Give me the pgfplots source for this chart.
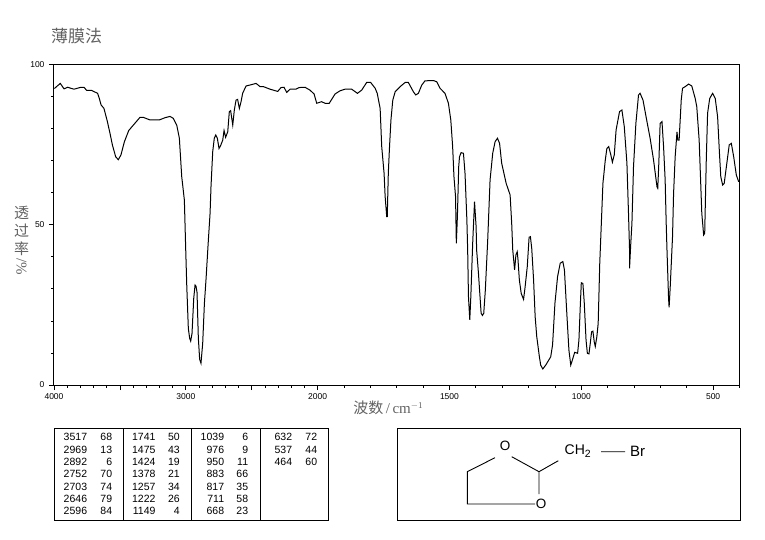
\documentclass[border=0pt]{standalone}
\usepackage{fontspec}
\setmainfont{Liberation Sans}
\newfontfamily\cjk{Noto Sans CJK SC}
\newfontfamily\serifcm{Liberation Serif}
\usepackage{pgfplots}
\pgfplotsset{compat=1.18}
\usepackage{pgfplotstable}

\definecolor{greytext}{gray}{0.38}

% spectrum: wavenumber (cm-1), transmittance (%)
\pgfplotstableread{
wn T
3997 92.5
3975 93.3
3952 94.1
3924 92.4
3896 92.9
3874 92.6
3848 92.3
3795 92.9
3772 92.9
3752 91.9
3714 91.9
3669 91.0
3656 89.4
3643 87.4
3621 86.3
3595 82.2
3575 78.5
3557 74.9
3532 71.2
3512 70.3
3492 71.8
3466 75.9
3433 79.4
3398 81.1
3348 83.5
3322 83.5
3272 82.7
3201 82.7
3158 83.4
3120 83.8
3095 83.2
3069 81.1
3049 77.0
3031 65.0
3011 57.7
3001 42.6
2993 31.2
2981 17.7
2971 14.6
2963 13.7
2953 16.1
2940 27.0
2930 31.2
2923 30.9
2915 28.9
2905 14.6
2895 8.0
2885 6.8
2872 13.0
2859 25.5
2847 32.8
2829 45.2
2816 53.6
2809 61.9
2796 72.8
2784 77.0
2773 78.0
2761 77.0
2748 73.8
2736 74.7
2720 76.4
2710 79.4
2698 77.3
2682 79.0
2670 85.3
2660 85.6
2644 81.1
2632 85.8
2619 88.9
2607 89.1
2594 86.3
2581 88.4
2569 91.0
2543 93.3
2513 93.6
2467 94.1
2437 93.1
2412 93.1
2361 92.3
2303 91.6
2278 92.8
2255 92.9
2235 91.3
2209 92.3
2164 92.3
2141 92.8
2096 92.9
2058 92.0
2027 90.8
2007 87.9
1985 88.4
1972 87.9
1956 87.9
1934 90.8
1915 91.8
1896 92.3
1871 92.3
1849 91.0
1833 92.0
1814 94.4
1799 94.4
1782 92.6
1774 91.0
1763 86.3
1757 74.4
1748 66.0
1744 58.8
1738 52.5
1736 52.5
1732 66.0
1728 73.3
1722 82.7
1715 88.9
1706 91.5
1687 93.1
1668 94.4
1656 94.4
1637 91.5
1628 90.5
1618 91.0
1605 93.6
1593 94.9
1561 95.0
1548 94.6
1536 92.6
1517 91.0
1504 87.9
1495 82.7
1488 74.4
1483 65.0
1477 58.8
1474 44.2
1470 52.5
1465 68.1
1462 71.2
1456 72.5
1447 72.3
1441 66.0
1434 51.5
1431 42.1
1428 27.6
1423 20.3
1419 27.6
1412 44.2
1405 57.2
1399 49.4
1397 42.1
1390 34.8
1380 22.4
1375 21.7
1370 22.4
1364 29.6
1355 45.2
1346 64.0
1336 72.3
1327 75.9
1318 77.0
1310 75.4
1302 69.2
1285 62.9
1270 59.3
1264 50.4
1260 42.1
1257 39.5
1253 35.9
1248 40.6
1243 41.6
1240 39.0
1235 32.8
1228 28.6
1219 26.7
1213 30.7
1205 36.9
1198 46.1
1193 46.3
1188 42.6
1181 32.8
1175 21.3
1169 15.1
1159 8.8
1154 6.2
1146 5.0
1135 6.2
1116 8.8
1109 12.5
1100 25.5
1090 33.8
1080 38.0
1070 38.5
1064 35.9
1055 22.4
1047 10.9
1040 6.2
1032 8.3
1025 10.2
1014 9.9
1009 14.0
1004 24.4
1000 31.9
994 31.7
989 26.0
982 14.0
977 9.9
971 9.7
966 13.0
961 16.6
956 16.8
951 13.5
947 12.0
941 15.1
936 19.2
930 38.0
925 48.4
918 62.9
909 70.2
903 73.8
896 74.4
888 71.8
882 69.5
875 71.8
868 79.6
855 85.3
846 85.8
837 80.6
827 69.2
821 53.6
817 42.1
817 36.4
813 43.2
808 50.4
802 68.1
793 81.6
783 90.5
777 91.0
766 88.9
751 82.2
739 77.0
726 70.2
713 61.9
710 61.4
706 69.2
701 81.6
694 82.2
688 74.4
682 64.0
678 50.4
675 42.1
669 27.0
667 24.2
663 30.2
654 46.3
650 59.8
644 71.2
637 79.0
634 76.4
629 76.4
621 88.9
616 92.6
606 93.1
593 93.9
581 93.3
568 89.4
562 86.8
553 76.4
543 53.6
536 46.8
532 47.3
526 70.2
521 84.8
513 89.4
502 91.0
492 89.4
483 83.7
476 72.3
471 65.0
464 62.4
458 62.9
448 69.2
439 74.9
431 75.4
422 71.2
412 65.5
403 63.4
}\spectrum

% peak table, one column at a time: right edges of the two numbers, then the rows
\newcommand{\peakcol}[3]{%
  \foreach \wn/\tr [count=\r from 0] in {#3} {
    \pgfmathsetmacro{\rowy}{437.3+12.3*\r}
    \node[anchor=east,inner sep=0pt,font=\fontsize{10.5}{10.5}\selectfont] at (#1,\rowy) {\wn};
    \node[anchor=east,inner sep=0pt,font=\fontsize{10.5}{10.5}\selectfont] at (#2,\rowy) {\tr};
  }%
}

\begin{document}
\begin{tikzpicture}
\path[use as bounding box] (0,0) rectangle (765pt,539pt);

\begin{axis}[
    at={(54pt,154pt)}, anchor=south west,
    scale only axis, width=685.5pt, height=320.5pt,
    x coord trafo/.code={\pgfmathparse{#1>=2000?#1:2*#1-2000}},
    x dir=reverse,
    xmin=400, xmax=4000, ymin=0, ymax=100,
    xtick={4000,3500,3000,2500,2000,1500,1000,500},
    xticklabels={4000,,3000,,2000,1500,1000,500},
    minor xtick={3900,3800,3700,3600,3400,3300,3200,3100,2900,2800,2700,2600,2400,2300,2200,2100,1900,1800,1700,1600,1400,1300,1200,1100,900,800,700,600,400},
    ytick={0,50,100},
    minor ytick={10,20,30,40,60,70,80,90},
    xtick pos=bottom, ytick pos=left,
    tick align=outside,
    major tick length=5pt, minor tick length=2.7pt,
    every tick/.style={black,line width=0.8pt},
    axis line style={black,line width=1pt},
    /pgf/number format/assume math mode=true,
    tick label style={font=\fontsize{8.5}{8.5}\selectfont},
    xticklabel style={yshift=-0.5pt},
    yticklabel style={xshift=-1pt},
    clip=false,
]
\addplot[black,line width=1pt,mark=none] table[x=wn,y=T] {\spectrum};
\end{axis}

% everything below is placed in reference pixels, y downwards
\begin{scope}[x=1pt,y=-1pt,yshift=539pt]
  \node[anchor=west,inner sep=0pt,text=greytext,font=\cjk\fontsize{17}{17}\selectfont] at (51,36) {薄膜法};

  \begin{scope}[text=greytext,font=\cjk\fontsize{15}{15}\selectfont]
    \node[inner sep=0pt] at (21.5,213) {透};
    \node[inner sep=0pt] at (21.5,231) {过};
    \node[inner sep=0pt] at (21.5,249) {率};
    \node[inner sep=0pt,rotate=-90,font=\serifcm\fontsize{15}{15}\selectfont] at (21.5,267) {/\%};
  \end{scope}

  \node[inner sep=0pt,text=greytext,font=\serifcm\fontsize{15}{15}\selectfont] at (388,408)
    {{\cjk 波数}\,/\,cm\raisebox{5pt}{\fontsize{9}{9}\selectfont $-$1}};

  % peak table
  \draw[line width=1pt] (54.7,428.3) rectangle (328.3,520);
  \draw[line width=1pt] (123,428.3) -- (123,520) (191.3,428.3) -- (191.3,520) (260.3,428.3) -- (260.3,520);
  \peakcol{87.3}{112.3}{3517/68,2969/13,2892/6,2752/70,2703/74,2646/79,2596/84}
  \peakcol{155.7}{180}{1741/50,1475/43,1424/19,1378/21,1257/34,1222/26,1149/4}
  \peakcol{224.3}{248.3}{1039/6,976/9,950/11,883/66,817/35,711/58,668/23}
  \peakcol{292.3}{317.3}{632/72,537/44,464/60}

  % structure
  \draw[line width=1pt] (397.3,428.3) rectangle (740,520);
  \draw[line width=0.9pt] (495,457.7) -- (467.3,471.7) -- (467.3,504) -- (535,504)
    (539,494) -- (539,471.7) -- (511.7,456.7)
    (539,471.7) -- (558.3,460.7)
    (601,451.7) -- (625,451.7);
  \node[inner sep=0pt,font=\fontsize{13.5}{13.5}\selectfont] at (505,446) {O};
  \node[inner sep=0pt,font=\fontsize{13.5}{13.5}\selectfont] at (541,504) {O};
  \node[anchor=west,inner sep=0pt,font=\fontsize{14}{14}\selectfont] at (564.5,451.5) {CH\raisebox{-3pt}{\fontsize{10.5}{10.5}\selectfont 2}};
  \node[anchor=west,inner sep=0pt,font=\fontsize{15}{15}\selectfont] at (630,451.5) {Br};
\end{scope}
\end{tikzpicture}
\end{document}
